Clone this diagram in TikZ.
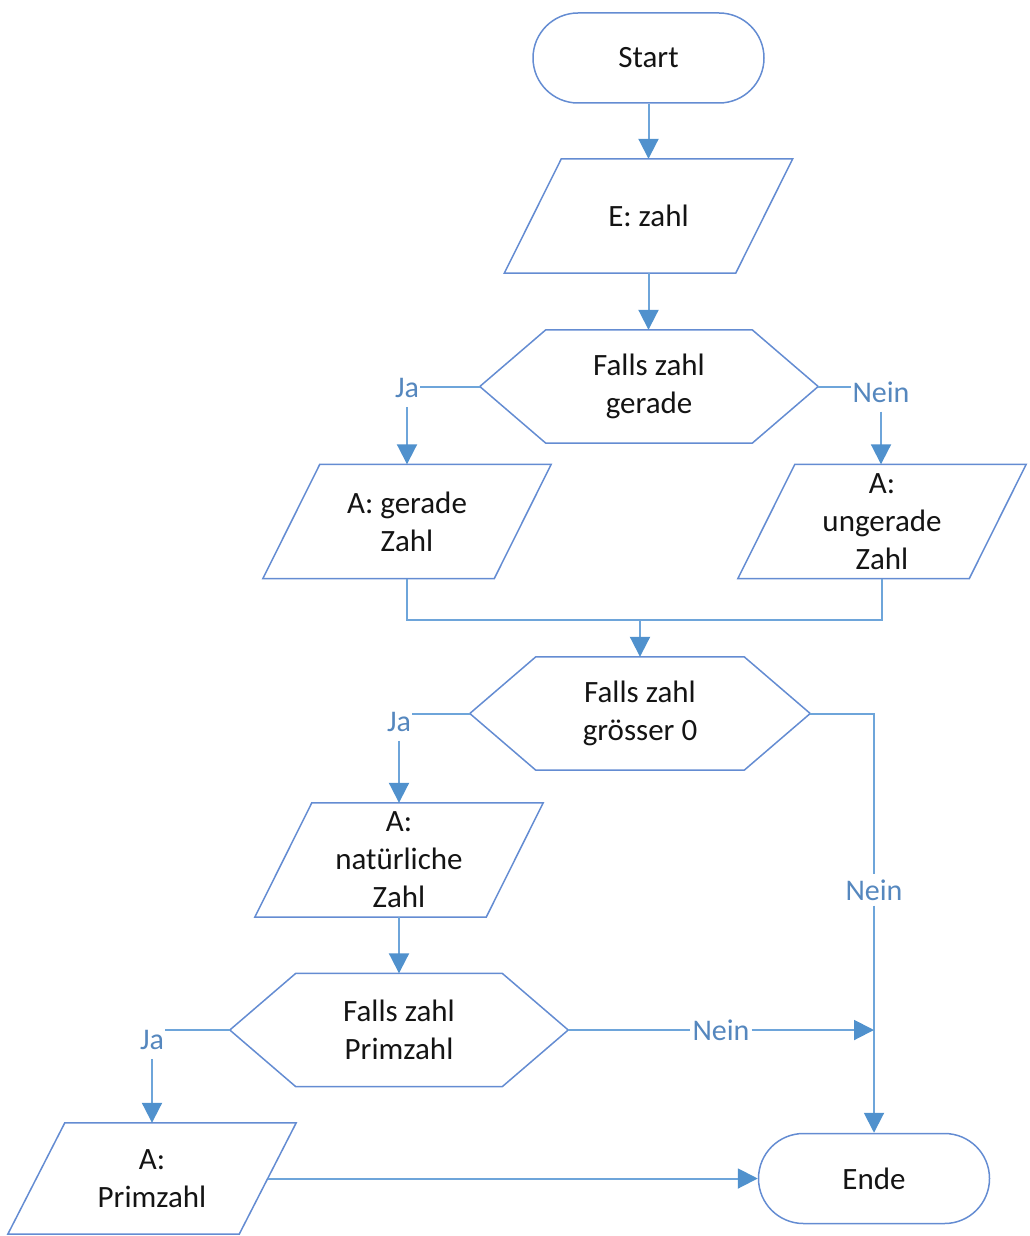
\documentclass[tikz,border=0pt]{standalone}
\usepackage{fontspec}
\setmainfont{Carlito}
\usetikzlibrary{arrows.meta}
\definecolor{shapeblue}{RGB}{100,140,210}
\definecolor{linkblue}{RGB}{110,165,218}
\definecolor{tipblue}{RGB}{80,145,205}
\definecolor{lblblue}{RGB}{85,135,190}
\definecolor{txt}{RGB}{20,20,20}
\tikzset{
 base/.style={inner sep=0pt, align=center, text=txt, font=\fontsize{31}{38}\selectfont},
 term/.style={base, draw=shapeblue, line width=1.5pt, rounded corners=45pt, minimum width=231pt, minimum height=90pt},
 iobox/.style={base, minimum width=288pt, minimum height=114pt},
 decbox/.style={base, minimum width=338pt, minimum height=113pt},
 outline/.style={draw=shapeblue, line width=1.5pt, line join=miter},
 lbl/.style={inner xsep=1pt, inner ysep=9pt, text=lblblue, font=\fontsize{30}{36}\selectfont},
 link/.style={draw=linkblue, line width=2pt},
 arr/.style={link, -{Triangle[length=20pt,width=20pt,color=tipblue]}}
}
\newcommand\drawpar[1]{\draw[outline] ([xshift=57pt]#1.north west) -- (#1.north east) -- ([xshift=-57pt]#1.south east) -- (#1.south west) -- cycle;}
\newcommand\drawhex[2]{\draw[outline] (#1.west) -- ([xshift=#2]#1.north west) -- ([xshift=-#2]#1.north east) -- (#1.east) -- ([xshift=-#2]#1.south east) -- ([xshift=#2]#1.south west) -- cycle;}
\begin{document}
\begin{tikzpicture}[x=1pt,y=-1pt]
\useasboundingbox (0,0) rectangle (1029,1236);
\node[term] (start) at (648.5,58) {Start};
\node[iobox] (in) at (648.5,216) {E: zahl};
\node[decbox] (d1) at (649,386.5) {Falls zahl\\gerade};
\node[lbl] (ja1) at (407,388) {Ja};
\node[lbl] (nein1) at (881,392) {Nein};
\node[iobox] (o1) at (407,521.5) {A: gerade\\Zahl};
\node[iobox] (o2) at (882,521.5) {A:\\ungerade\\Zahl};
\coordinate (m) at (640,620);
\node[decbox, minimum width=340pt] (d2) at (640,713.5) {Falls zahl\\grösser 0};
\node[lbl] (ja2) at (399,722) {Ja};
\node[lbl, inner ysep=5pt] (nein2) at (874,890) {Nein};
\node[iobox] (o3) at (399,860) {A:\\natürliche\\Zahl};
\node[decbox] (d3) at (399,1030) {Falls zahl\\Primzahl};
\node[lbl, inner xsep=2pt] (nein3) at (721,1030) {Nein};
\coordinate (j) at (874,1030);
\node[lbl] (ja3) at (152,1040) {Ja};
\node[iobox, minimum height=111pt] (o4) at (152,1178.5) {A:\\Primzahl};
\node[term] (ende) at (874,1178.5) {Ende};
\drawpar{in}\drawpar{o1}\drawpar{o2}\drawpar{o3}\drawpar{o4}
\drawhex{d1}{66pt}\drawhex{d2}{66pt}\drawhex{d3}{66pt}
\draw[arr] (start.south) -- (start.south |- in.north);
\draw[arr] (in.south) -- (in.south |- d1.north);
\draw[link] (d1.west) -- (d1.west -| ja1.east);
\draw[arr] (ja1.south) -- (ja1.south |- o1.north);
\draw[link] (d1.east) -- (d1.east -| nein1.west);
\draw[arr] (nein1.south) -- (nein1.south |- o2.north);
\draw[link] (o1.south) |- (m) -| (o2.south);
\draw[arr] (m) -- (d2.north);
\draw[link] (d2.west) -- (d2.west -| ja2.east);
\draw[arr] (ja2.south) -- (ja2.south |- o3.north);
\draw[link] (d2.east) -| (nein2.north);
\draw[arr] (nein2.south) -- (ende.north);
\draw[arr] (o3.south) -- (o3.south |- d3.north);
\draw[link] (d3.east) -- (nein3.west);
\draw[arr] (nein3.east) -- (j);
\draw[link] (d3.west) -- (d3.west -| ja3.east);
\draw[arr] (ja3.south) -- (ja3.south |- o4.north);
\draw[arr] ([xshift=-28pt]o4.east) -- (ende.west);
\end{tikzpicture}
\end{document}
